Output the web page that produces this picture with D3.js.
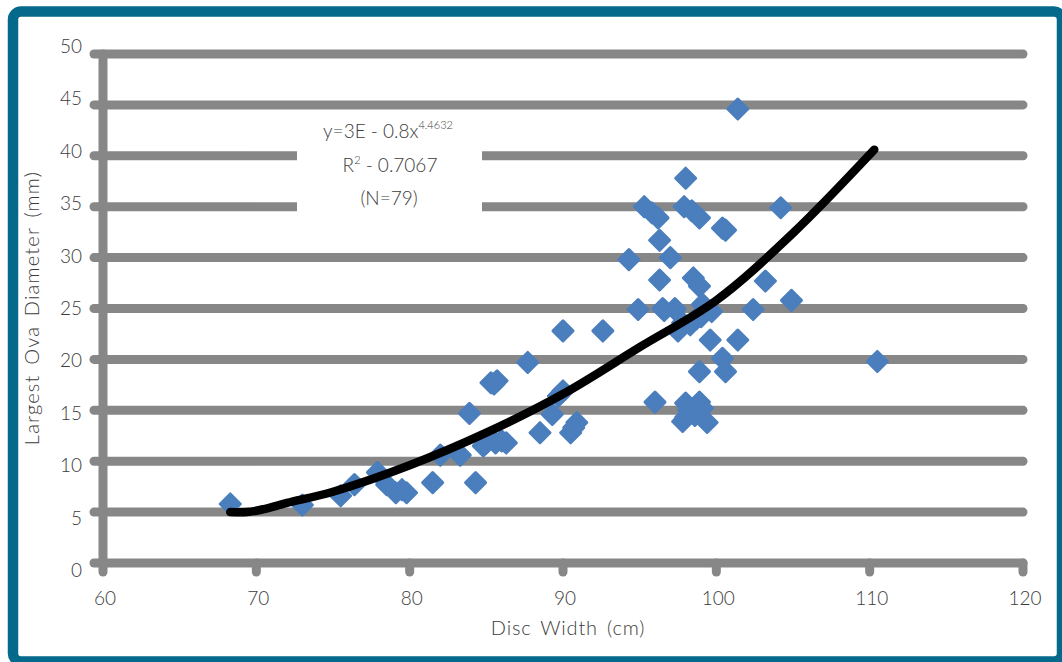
<!DOCTYPE html>
<html><head><meta charset="utf-8">
<script src="https://cdn.jsdelivr.net/npm/d3@7"></script>
<style>
html,body{margin:0;padding:0;background:#fff;}
svg{display:block;font-family:"Lato","Open Sans",sans-serif;}
</style></head>
<body>
<svg id="c" width="1062" height="662"></svg>
<script>
// ---- data ----
const discWidth = [68.3,73.0,75.5,76.4,77.9,78.5,79.1,79.8,81.5,82.0,83.3,83.9,84.3,85.0,85.6,86.3,85.3,85.7,87.7,88.5,
  89.3,89.7,90.0,90.0,90.5,90.9,92.6,94.3,94.9,95.3,95.8,96.2,96.3,96.3,96.5,97.0,97.3,97.5,97.8,98.0,
  97.9,98.4,98.9,98.5,98.9,98.3,98.7,99.1,99.7,99.6,100.4,100.6,100.4,100.6,98.9,101.4,101.4,102.4,103.2,104.2,
  104.9,110.5,96.0,98.0,98.2,98.9,99.1,97.8,98.6,99.4,84.8,86.0,97.3,96.6,99.0,98.0,90.7,79.5,85.5];
const ovaDiameter = [5.8,5.7,6.6,7.7,8.9,7.7,6.9,6.9,7.9,10.6,10.6,14.7,7.9,11.8,11.8,11.8,17.7,17.9,19.7,12.8,
  14.6,16.4,16.9,22.8,12.8,13.8,22.8,29.8,24.9,35.0,34.4,33.9,31.7,27.8,25.0,30.0,24.9,22.8,23.6,37.8,
  35.0,34.6,33.9,28.0,27.2,23.4,24.0,25.4,24.7,21.9,32.9,32.7,20.1,18.8,18.8,21.9,44.6,24.9,27.7,34.9,
  25.8,19.8,15.8,15.7,15.0,15.8,15.2,13.9,14.5,13.8,11.5,12.0,25.0,24.8,24.2,14.3,13.3,7.2,17.6];
// trendline knots (y = 3E-08 x^4.4632)
const trendX = [68.3,69.4,70.5,72,75,80,85,90,95,100,105,110.3];
const trendY = [5.0,5.0,5.3,5.9,7.0,9.6,12.8,16.6,21.2,25.8,32.4,40.6];
const xTicks = [60,70,80,90,100,110,120];
const yTicks = [0,5,10,15,20,25,30,35,40,45,50];
const annotation = ["y=3E - 0.8x", "R", "(N=79)"];

const svg = d3.select("#c");
const x = d3.scaleLinear().domain([60,120]).range([103,1023]);
const y = d3.scaleLinear().domain([0,50]).range([563,54]);
const yLab = d3.scaleLinear().domain([0,50]).range([577,53]);
const grid = "#878787", txt = "#3c3c3c";

// frame
svg.append("rect").attr("x",13).attr("y",11.5).attr("width",1049).attr("height",650)
  .attr("rx",8).attr("fill","#fff").attr("stroke","#05698c").attr("stroke-width",10.5);

// gridlines
svg.append("g").selectAll("line").data(yTicks).join("line")
  .attr("x1",94).attr("x2",1023).attr("y1",d=>y(d)).attr("y2",d=>y(d))
  .attr("stroke",grid).attr("stroke-width",9).attr("stroke-linecap","round");
// y axis line
svg.append("line").attr("x1",x(60)).attr("x2",x(60)).attr("y1",y(50)).attr("y2",y(0)+9)
  .attr("stroke",grid).attr("stroke-width",9).attr("stroke-linecap","round");
// x ticks
svg.append("g").selectAll("line").data(xTicks.slice(1)).join("line")
  .attr("x1",d=>x(d)).attr("x2",d=>x(d)).attr("y1",y(0)).attr("y2",y(0)+9)
  .attr("stroke",grid).attr("stroke-width",9).attr("stroke-linecap","round");

// annotation box (covers gridlines)
svg.append("rect").attr("x",297).attr("y",111).attr("width",185).attr("height",103).attr("fill","#fff");

// y tick labels
svg.append("g").selectAll("text").data(yTicks).join("text")
  .attr("x",82).attr("y",d=>yLab(d)).attr("text-anchor","end")
  .attr("font-size",19).attr("font-weight",300).attr("fill",txt).text(d=>d);
// x tick labels
svg.append("g").selectAll("text").data(xTicks).join("text")
  .attr("x",d=>x(d)+2).attr("y",605).attr("text-anchor","middle")
  .attr("font-size",19).attr("font-weight",300).attr("fill",txt).text(d=>d);

// axis titles
svg.append("text").attr("x",568).attr("y",635).attr("text-anchor","middle")
  .attr("font-size",20).attr("letter-spacing",0.8).attr("word-spacing",3).attr("font-weight",300).attr("fill",txt).text("Disc Width (cm)");
svg.append("text").attr("transform","translate(39,308) rotate(-90)").attr("text-anchor","middle")
  .attr("font-size",20).attr("letter-spacing",1.2).attr("word-spacing",3).attr("font-weight",300).attr("fill",txt).text("Largest Ova Diameter (mm)");

// points
const pts = discWidth.map((d,i)=>[d,ovaDiameter[i]]);
const r = 10;
svg.append("g").selectAll("path").data(pts).join("path")
  .attr("d",`M0,${-r}L${r},0L0,${r}L${-r},0Z`)
  .attr("transform",d=>`translate(${x(d[0])},${y(d[1])})`)
  .attr("fill","#4a7ebd").attr("stroke","#4a7ebd").attr("stroke-width",3).attr("stroke-linejoin","round");

// trendline
const line = d3.line().x(d=>x(d[0])).y(d=>y(d[1])).curve(d3.curveCatmullRom);
svg.append("path").datum(trendX.map((d,i)=>[d,trendY[i]])).attr("d",line)
  .attr("fill","none").attr("stroke","#000").attr("stroke-width",8.5)
  .attr("stroke-linecap","round").attr("stroke-linejoin","round");

// annotation text
const ag = svg.append("g").attr("font-size",19).attr("font-weight",300).attr("fill",txt).attr("text-anchor","middle");
const t1 = ag.append("text").attr("x",388).attr("y",138);
t1.append("tspan").text(annotation[0]);
t1.append("tspan").attr("dy",-9).attr("font-size",11).text("4.4632");
const t2 = ag.append("text").attr("x",390).attr("y",172);
t2.append("tspan").text(annotation[1]);
t2.append("tspan").attr("dy",-8).attr("font-size",11).text("2");
t2.append("tspan").attr("dy",8).text(" - 0.7067");
ag.append("text").attr("x",389).attr("y",205).text(annotation[2]);
</script>
</body></html>
